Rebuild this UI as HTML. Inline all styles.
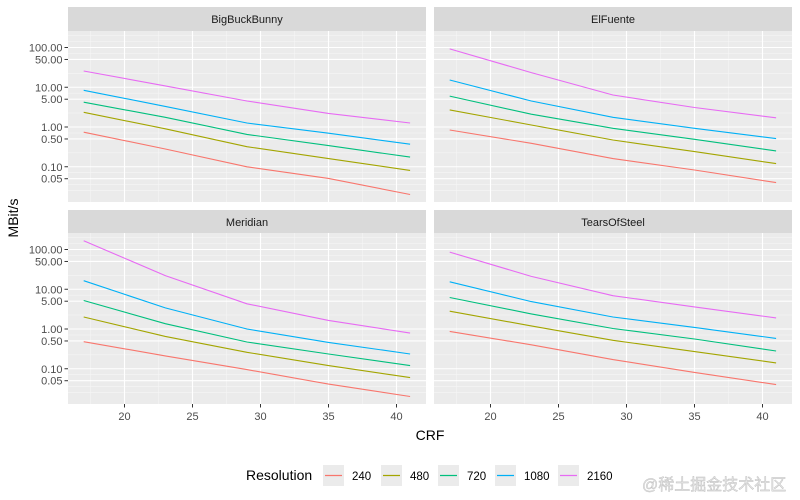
<!DOCTYPE html>
<html><head><meta charset="utf-8">
<style>
body{margin:0;background:#fff;}
svg{display:block;font-family:"Liberation Sans","Noto Sans CJK SC",sans-serif;}
</style></head>
<body>
<svg id="chart" width="800" height="500" viewBox="0 0 800 500"></svg>
<script>
const crfValues = [17, 23, 29, 35, 41];
const resolutions = ["240", "480", "720", "1080", "2160"];
const seriesColors = ["#F8766D", "#A3A500", "#00BF7D", "#00B0F6", "#E76BF3"];
const facetNames = ["BigBuckBunny", "ElFuente", "Meridian", "TearsOfSteel"];
const bigBuckBunny240 = [0.74, 0.28, 0.1, 0.051, 0.02];
const bigBuckBunny480 = [2.35, 0.9, 0.32, 0.16, 0.081];
const bigBuckBunny720 = [4.2, 1.75, 0.65, 0.34, 0.175];
const bigBuckBunny1080 = [8.4, 3.3, 1.26, 0.7, 0.37];
const bigBuckBunny2160 = [25.7, 10.8, 4.5, 2.2, 1.26];
const elFuente240 = [0.84, 0.39, 0.16, 0.083, 0.04];
const elFuente480 = [2.7, 1.12, 0.47, 0.24, 0.12];
const elFuente720 = [6.0, 2.1, 0.93, 0.49, 0.25];
const elFuente1080 = [15.2, 4.5, 1.75, 0.93, 0.51];
const elFuente2160 = [92, 23.3, 6.4, 3.1, 1.7];
const meridian240 = [0.48, 0.21, 0.095, 0.041, 0.02];
const meridian480 = [2.0, 0.65, 0.26, 0.12, 0.06];
const meridian720 = [5.2, 1.36, 0.47, 0.235, 0.12];
const meridian1080 = [16.4, 3.4, 1.0, 0.46, 0.235];
const meridian2160 = [166, 22, 4.3, 1.65, 0.79];
const tears240 = [0.87, 0.4, 0.17, 0.081, 0.04];
const tears480 = [2.8, 1.2, 0.52, 0.27, 0.14];
const tears720 = [6.2, 2.4, 1.03, 0.56, 0.28];
const tears1080 = [15.4, 4.9, 2.0, 1.1, 0.58];
const tears2160 = [86, 21, 6.9, 3.6, 1.9];
const facetSeries = [
  [bigBuckBunny240, bigBuckBunny480, bigBuckBunny720, bigBuckBunny1080, bigBuckBunny2160],
  [elFuente240, elFuente480, elFuente720, elFuente1080, elFuente2160],
  [meridian240, meridian480, meridian720, meridian1080, meridian2160],
  [tears240, tears480, tears720, tears1080, tears2160]
];
const yTickValues = [0.05, 0.1, 0.5, 1, 5, 10, 50, 100];
const yTickLabels = ["0.05", "0.10", "0.50", "1.00", "5.00", "10.00", "50.00", "100.00"];
const xTickValues = [20, 25, 30, 35, 40];
const xTickLabels = ["20", "25", "30", "35", "40"];

const NS = "http://www.w3.org/2000/svg";
const svg = document.getElementById("chart");
function mk(tag, attrs, parent) {
  const e = document.createElementNS(NS, tag);
  for (const k in attrs) e.setAttribute(k, attrs[k]);
  (parent || svg).appendChild(e);
  return e;
}
const panels = [
  {x0: 68, x1: 426, y0: 31, y1: 202, sTop: 7},
  {x0: 434, x1: 792, y0: 31, y1: 202, sTop: 7},
  {x0: 68, x1: 426, y0: 233, y1: 404, sTop: 210},
  {x0: 434, x1: 792, y0: 233, y1: 404, sTop: 210}
];
const PPD = 39.75, PPX = 13.6;
panels.forEach((p, i) => {
  const yRef = p.y0 + 96;
  const xRef = p.x0 + 56.5;
  const xS = v => xRef + (v - 20) * PPX;
  const yS = v => yRef - PPD * Math.log10(v);
  const g = mk("g", {});
  
  
  const strip = mk("rect", {x: p.x0, y: p.sTop, width: p.x1 - p.x0, height: p.y0 - p.sTop, fill: "#d9d9d9"}, g);
  
  
  const st = mk("text", {x: (p.x0 + p.x1) / 2, y: p.sTop + 16, "text-anchor": "middle", "font-size": "11", fill: "#1a1a1a"}, g);
  st.textContent = facetNames[i];
  
  
  const bg = mk("rect", {x: p.x0, y: p.y0, width: p.x1 - p.x0, height: p.y1 - p.y0, fill: "#ebebeb"}, g);
  
  
  const logs = yTickValues.map(v => Math.log10(v));
  const minors = [];
  for (let k = 0; k < logs.length - 1; k++) minors.push((logs[k] + logs[k + 1]) / 2);
  minors.push(logs[0] - 0.15, logs[0] - 0.3, logs[logs.length - 1] + 0.15, logs[logs.length - 1] + 0.3);
  minors.forEach(l => {
    const y = yRef - PPD * l;
    if (y > p.y0 && y < p.y1) mk("line", {x1: p.x0, x2: p.x1, y1: y, y2: y, stroke: "#f5f5f5", "stroke-width": 0.6}, g);
  });
  [17.5, 22.5, 27.5, 32.5, 37.5].forEach(v => mk("line", {x1: xS(v), x2: xS(v), y1: p.y0, y2: p.y1, stroke: "#f5f5f5", "stroke-width": 0.6}, g));
  yTickValues.forEach(v => mk("line", {x1: p.x0, x2: p.x1, y1: yS(v), y2: yS(v), stroke: "#fff", "stroke-width": 1.1}, g));
  xTickValues.forEach(v => mk("line", {x1: xS(v), x2: xS(v), y1: p.y0, y2: p.y1, stroke: "#fff", "stroke-width": 1.1}, g));
  facetSeries[i].forEach((vals, s) => {
    const pts = vals.map((v, j) => xS(crfValues[j]).toFixed(1) + "," + yS(v).toFixed(1)).join(" ");
    const pl = mk("polyline", {points: pts, fill: "none", stroke: seriesColors[s], "stroke-width": 1.1}, g);
    
    
  });
  if (p.x0 === 68) {
    yTickValues.forEach((v, k) => {
      mk("line", {x1: p.x0 - 3.5, x2: p.x0, y1: yS(v), y2: yS(v), stroke: "#333", "stroke-width": 1}, g);
      const t = mk("text", {x: p.x0 - 5.5, y: yS(v) + 4, "text-anchor": "end", "font-size": "11", fill: "#4d4d4d"}, g);
      t.textContent = yTickLabels[k];
      
      
    });
  }
  if (p.y0 > 200) {
    xTickValues.forEach((v, k) => {
      mk("line", {x1: xS(v), x2: xS(v), y1: p.y1, y2: p.y1 + 3.5, stroke: "#333", "stroke-width": 1}, g);
      const t = mk("text", {x: xS(v), y: p.y1 + 16, "text-anchor": "middle", "font-size": "11", fill: "#4d4d4d"}, g);
      t.textContent = xTickLabels[k];
      
      
    });
  }
});
const xt = mk("text", {x: 430, y: 440, "text-anchor": "middle", "font-size": "14", fill: "#000"});
xt.textContent = "CRF";


const yt = mk("text", {x: 0, y: 0, transform: "translate(18,218) rotate(-90)", "text-anchor": "middle", "font-size": "14", fill: "#000"});
yt.textContent = "MBit/s";


const lt = mk("text", {x: 246, y: 480, "font-size": "14", fill: "#000"});
lt.textContent = "Resolution";


const keyX = [323, 381, 438, 495, 558];
resolutions.forEach((r, s) => {
  const g = mk("g", {});
  
  
  mk("rect", {x: keyX[s], y: 465, width: 21, height: 21, fill: "#ebebeb"}, g);
  mk("line", {x1: keyX[s] + 2, x2: keyX[s] + 19, y1: 475.5, y2: 475.5, stroke: seriesColors[s], "stroke-width": 1.2}, g);
  const t = mk("text", {x: keyX[s] + 29, y: 480, "font-size": "11.5", fill: "#000"}, g);
  t.textContent = r;
});
const wm = mk("text", {x: 642, y: 490, "font-size": "16", fill: "#e6e6e6", stroke: "#bbb", "stroke-width": 0.4});
wm.textContent = "@稀土掘金技术社区";


</script>
</body></html>
